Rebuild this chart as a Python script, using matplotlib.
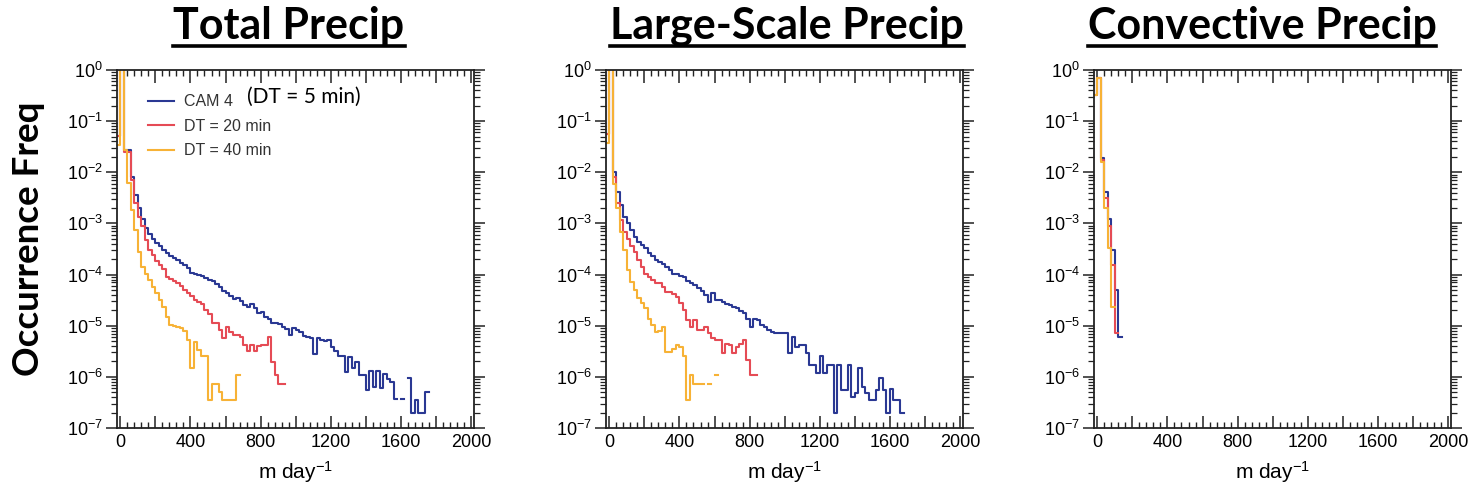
import numpy as np
import matplotlib
matplotlib.use("Agg")
import matplotlib.pyplot as plt
from matplotlib.ticker import MultipleLocator, FuncFormatter, LogLocator, NullFormatter
from matplotlib.lines import Line2D

plt.rcParams["font.family"] = ["Liberation Sans", "DejaVu Sans"]
plt.rcParams["mathtext.default"] = "regular"

# histogram bins (m day-1): first bin starts at -20, fixed width 20
BIN_START = -20.0
BIN_WIDTH = 20.0

panel_titles = ["Total Precip", "Large-Scale Precip", "Convective Precip"]
series_labels = ["CAM 4", "DT = 20 min", "DT = 40 min"]
series_colors = ["#2a3893", "#e54b55", "#f7b236"]

# log10 of occurrence frequency per bin (nan = empty bin)
nan = np.nan
total_cam4 = [-1.3, 0.3, -1.56, -1.56, -2.1, -2.44, -2.7, -2.92, -3.08, -3.2,
              -3.3, -3.38, -3.45, -3.52, -3.57, -3.63, -3.67, -3.72, -3.77, -3.82,
              -3.88, -3.96, -3.99, -4.0, -4.02, -4.06, -4.1, -4.13, -4.19, -4.24,
              -4.32, -4.37, -4.42, -4.47, -4.46, -4.52, -4.6, -4.63, -4.58, -4.66,
              -4.76, -4.74, -4.82, -4.86, -4.95, -4.94, -4.96, -5.03, -5.06, -5.18,
              -5.05, -5.08, -5.12, -5.2, -5.22, -5.25, -5.55, -5.25, -5.28, -5.3,
              -5.28, -5.42, -5.5, -5.6, -5.6, -5.9, -5.62, -5.83, -5.7, -5.96,
              -5.96, -6.25, -5.88, -6.2, -5.88, -6.22, -5.95, -6.05, -6.1, -6.44,
              nan, -6.44, nan, -6.03, -6.7, -6.45, -6.7, -6.7, -6.3]
total_dt20 = [-1.3, 0.3, -1.6, -1.6, -2.15, -2.6, -2.87, -3.06, -3.32, -3.52,
              -3.62, -3.74, -3.82, -3.9, -4.04, -4.08, -4.12, -4.17, -4.22, -4.3,
              -4.36, -4.42, -4.5, -4.54, -4.58, -4.7, -4.78, -4.95, -4.95, -5.08,
              -5.25, -5.02, -5.12, -5.18, -5.18, -5.22, -5.38, -5.5, -5.38, -5.5,
              -5.4, -5.38, -5.38, -5.22, -5.7, -5.96, -6.13, -6.13]
total_dt40 = [-1.47, 0.3, -1.56, -2.2, -2.74, -3.13, -3.55, -3.85, -3.98, -4.1,
              -4.24, -4.37, -4.5, -4.63, -4.82, -4.99, -5.0, -5.02, -5.05, -5.1,
              -5.28, -5.83, -5.31, -5.48, -5.6, -5.6, -6.45, -6.13, -6.13, -6.3,
              -6.45, -6.45, -6.45, -6.45, -5.96]

large_cam4 = [-1.25, 0.3, -2.0, -2.38, -2.64, -2.87, -3.0, -3.13, -3.26, -3.36,
              -3.42, -3.48, -3.57, -3.64, -3.72, -3.76, -3.8, -3.86, -3.92, -3.98,
              -3.99, -4.02, -4.05, -4.12, -4.16, -4.2, -4.27, -4.32, -4.4, -4.53,
              -4.37, -4.5, -4.5, -4.53, -4.58, -4.6, -4.63, -4.66, -4.72, -4.76,
              -4.86, -5.02, -4.86, -4.88, -4.99, -5.03, -5.08, -5.12, -5.15, -5.15,
              -5.15, -5.15, -5.54, -5.22, -5.41, -5.38, -5.38, -5.54, -5.77, -5.77,
              -5.93, -5.6, -5.93, -5.77, -5.77, -6.7, -5.77, -6.26, -6.26, -5.77,
              -6.39, -6.32, -5.83, -6.2, -6.32, -6.45, -6.45, -6.26, -6.03, -6.26,
              -6.7, -6.23, -6.45, -6.45, -6.7]
large_dt20 = [-1.25, 0.3, -2.1, -2.6, -2.93, -3.16, -3.3, -3.45, -3.55, -3.72,
              -3.85, -3.98, -4.05, -4.1, -4.17, -4.17, -4.24, -4.34, -4.34, -4.38,
              -4.43, -4.56, -4.69, -4.89, -5.02, -4.89, -5.08, -5.08, -5.02, -5.15,
              -5.25, -5.28, -5.28, -5.54, -5.35, -5.38, -5.54, -5.41, -5.35, -5.28,
              -5.67, -5.96, -5.96]
large_dt40 = [-1.43, 0.3, -2.22, -2.7, -3.16, -3.52, -3.91, -4.14, -4.3, -4.45,
              -4.55, -4.66, -4.86, -4.99, -5.12, -5.1, -5.02, -5.51, -5.51, -5.45,
              -5.38, -5.42, -5.6, -6.45, -5.96, -6.13, -6.13, -6.13, nan, -6.13,
              nan, -5.96]

conv_cam4 = [-0.49, -0.16, -1.73, -2.38, -2.92, -3.52, -4.3, -5.22]
conv_dt20 = [-0.49, -0.16, -1.76, -2.51, -3.06, -3.81, -5.15]
conv_dt40 = [-0.49, -0.16, -1.79, -2.7, -3.49, -4.63]

panels = [
    [total_cam4, total_dt20, total_dt40],
    [large_cam4, large_dt20, large_dt40],
    [conv_cam4, conv_dt20, conv_dt40],
]

W, H = 1474, 492
fig = plt.figure(figsize=(W / 100, H / 100), dpi=100)

ax_lefts = [117, 606, 1094]
ax_w, ax_top, ax_bot = 357, 70, 428
title_x = [289, 787, 1262]


def draw_stairs(ax, log_vals, color, label):
    vals = 10.0 ** np.asarray(log_vals, dtype=float)
    edges = BIN_START + BIN_WIDTH * np.arange(len(vals) + 1)
    ax.plot(edges, np.append(vals, vals[-1]), drawstyle="steps-post",
            color=color, lw=1.5, label=label)


def x_label_fmt(v, pos):
    return "%d" % v if int(round(v)) % 400 == 0 else ""


axes = []
for i, series in enumerate(panels):
    ax = fig.add_axes([ax_lefts[i] / W, 1 - ax_bot / H, ax_w / W, (ax_bot - ax_top) / H])
    for vals, col, lab in zip(series, series_colors, series_labels):
        draw_stairs(ax, vals, col, lab)
    ax.set_yscale("log")
    ax.set_ylim(1e-7, 1)
    ax.set_xlim(-19, 2017)

    ax.xaxis.set_major_locator(MultipleLocator(200))
    ax.xaxis.set_minor_locator(MultipleLocator(40))
    ax.xaxis.set_major_formatter(FuncFormatter(x_label_fmt))
    ax.yaxis.set_major_locator(LogLocator(base=10, numticks=20))
    ax.yaxis.set_minor_locator(LogLocator(base=10, subs=np.arange(2, 10), numticks=20))
    ax.yaxis.set_minor_formatter(NullFormatter())
    ax.yaxis.set_major_formatter(FuncFormatter(lambda v, p: r"$10^{%d}$" % int(round(np.log10(v)))))

    ax.tick_params(axis="x", which="both", direction="in", top=True, bottom=True,
                   labelsize=13, pad=4, color="#222222")
    ax.tick_params(axis="x", which="major", length=9, width=1.1)
    ax.tick_params(axis="x", which="minor", length=4.5, width=1.0)
    ax.tick_params(axis="y", which="both", direction="out", left=True, right=True,
                   labelsize=13, pad=2, color="#222222")
    ax.tick_params(axis="y", which="major", length=8, width=1.1)
    ax.tick_params(axis="y", which="minor", length=4.5, width=0.9)
    for sp in ax.spines.values():
        sp.set_linewidth(1.3)
        sp.set_color("#222222")

    ax.set_xlabel("m day$^{-1}$", fontsize=15, labelpad=6)
    axes.append(ax)

# legend in the first panel
axes[0].legend(loc="upper left", bbox_to_anchor=(0.07, 0.95), frameon=False,
               fontsize=11.5, handlelength=1.6, handletextpad=0.6,
               labelspacing=0.6, borderaxespad=0.0, labelcolor="#333333")
fig.text(247 / W, 1 - 97 / H, "(DT = 5 min)", fontsize=15, family="Lato",
         ha="left", va="center")

# panel titles, bold and underlined
titles = []
for i, t in enumerate(panel_titles):
    titles.append(fig.text(title_x[i] / W, 1 - 26 / H, t, fontsize=31,
                           family="Lato", weight="bold", ha="center", va="center"))
fig.text(29 / W, 1 - 239 / H, "Occurrence Freq", fontsize=26.5, family="Lato",
         weight="bold", rotation=90, ha="center", va="center")

fig.canvas.draw()
r = fig.canvas.get_renderer()
for t in titles:
    bb = t.get_window_extent(renderer=r)
    y = 1 - 46 / H
    fig.add_artist(Line2D([bb.x0 / W, bb.x1 / W], [y, y], color="black", lw=2.6,
                          transform=fig.transFigure))

fig.savefig("out.png", dpi=100)
